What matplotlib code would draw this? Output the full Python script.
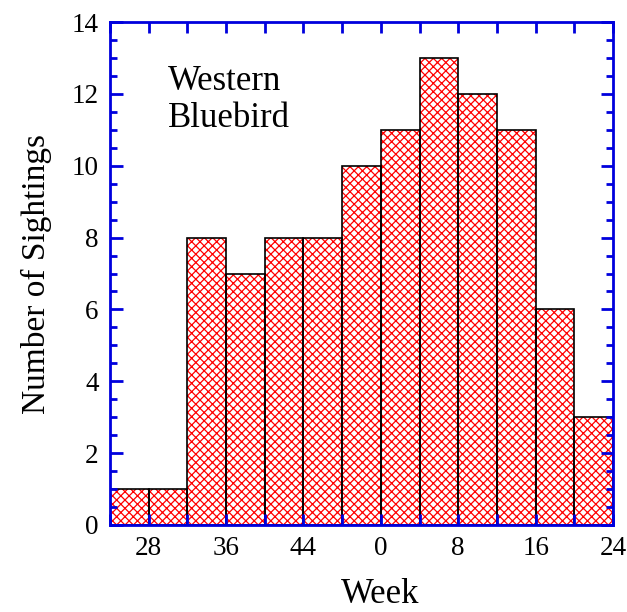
import numpy as np
import matplotlib
matplotlib.use("Agg")
import matplotlib.pyplot as plt
from matplotlib.ticker import MultipleLocator

plt.rcParams["font.family"] = ["Liberation Serif", "DejaVu Serif"]
plt.rcParams["hatch.linewidth"] = 0.9

# weekly bins (week of year at bin start), season wraps over new year
bin_start_week = [24, 28, 32, 36, 40, 44, 48, 0, 4, 8, 12, 16, 20]
sightings = [1, 1, 8, 7, 8, 8, 10, 11, 13, 12, 11, 6, 3]
bin_width = 4

tick_weeks = [28, 36, 44, 0, 8, 16, 24]
tick_labels = ["28", "36", "44", "0", "8", "16", "24"]

# unwrap weeks so the axis runs continuously across the year boundary
start = bin_start_week[0]
x_left = np.array([(w - start) % 52 + start for w in bin_start_week])
tick_pos = [(w - start - 1) % 52 + start + 1 for w in tick_weeks]

fig = plt.figure(figsize=(6.27, 6.12), dpi=100)
ax = fig.add_axes([0.1754, 0.1422, 0.8023, 0.8218])

ax.bar(x_left, sightings, width=bin_width, align="edge",
       color="white", edgecolor="red", hatch="xxxx", linewidth=0)
ax.bar(x_left, sightings, width=bin_width, align="edge",
       fill=False, edgecolor="black", linewidth=1.2)

ax.set_xlim(x_left[0], x_left[-1] + bin_width)
ax.set_ylim(0, 14)

xt = np.arange(x_left[0], x_left[-1] + bin_width + 1, bin_width)
ax.set_xticks(xt)
ax.set_xticklabels([tick_labels[tick_pos.index(p)] if p in tick_pos else "" for p in xt])
ax.yaxis.set_major_locator(MultipleLocator(2))
ax.yaxis.set_minor_locator(MultipleLocator(0.5))

for s in ax.spines.values():
    s.set_color("#0000dd")
    s.set_linewidth(2)

ax.tick_params(axis="both", which="both", direction="in", color="#0000dd",
               top=True, right=True, labelsize=19.5, width=2)
ax.tick_params(axis="x", which="major", length=8, pad=8)
ax.tick_params(axis="y", which="major", length=9, pad=8)
ax.tick_params(axis="y", which="minor", length=5)

ax.set_xlabel("Week", fontsize=25)
ax.xaxis.set_label_coords(0.537, -0.105)
ax.set_ylabel("Number of Sightings", fontsize=24, labelpad=14)

ax.text(0.115, 0.915, "Western\nBluebird", transform=ax.transAxes,
        fontsize=25, va="top", ha="left", linespacing=1.15)

fig.savefig("out.png", dpi=100)
